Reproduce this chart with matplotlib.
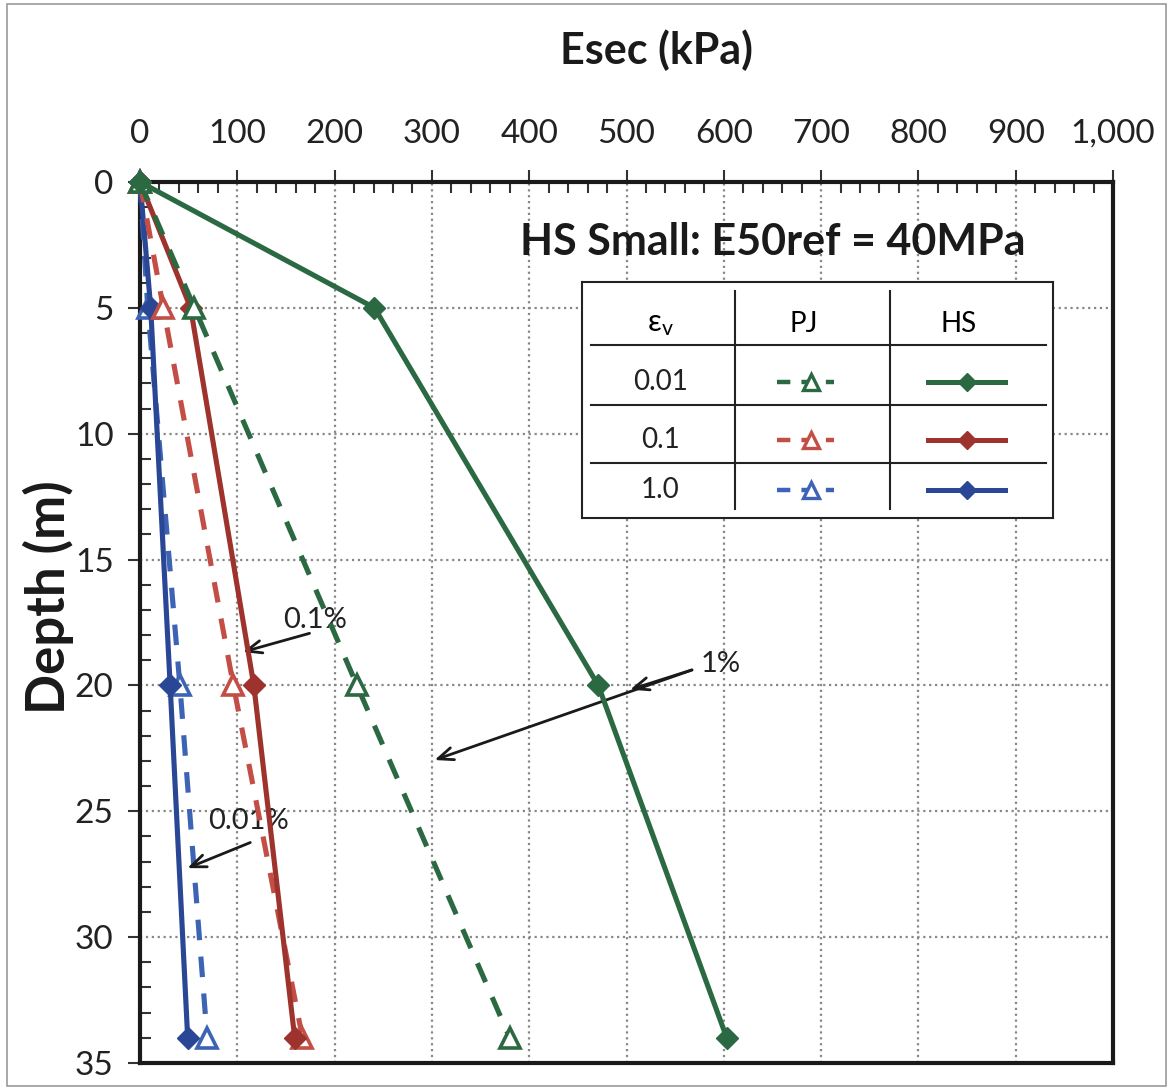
import matplotlib
matplotlib.use('Agg')
import matplotlib.pyplot as plt
from matplotlib.lines import Line2D
from matplotlib.patches import Rectangle

plt.rcParams['font.family'] = ['Lato', 'DejaVu Sans']

# depths (m) and secant moduli (kPa)
depth = [0, 5, 20, 34]
pj_001 = [0, 56, 223, 380]
pj_01 = [0, 24, 96, 167]
pj_1 = [0, 8, 41, 69]
hs_001 = [0, 241, 471, 603]
hs_01 = [0, 52, 117, 159]
hs_1 = [0, 11, 31, 49]

green = '#2b6942'
red_d = '#c24e46'
red_s = '#9e332d'
blue_d = '#3d63b4'
blue_s = '#2a4796'

fig = plt.figure(figsize=(11.71, 10.89), dpi=100)
ax = fig.add_axes([140/1171, 1-1063/1089, 973/1171, 881/1089])

pj_kw = dict(ls=(0, (4, 3.2)), lw=3.7, marker='^', ms=15, mfc='white', mew=2.6, clip_on=False)
hs_kw = dict(ls='-', lw=3.7, marker='D', ms=11, clip_on=False)

ax.plot(pj_1, depth, color=blue_d, zorder=3, **pj_kw)
ax.plot(hs_1, depth, color=blue_s, zorder=4, **hs_kw)
ax.plot(pj_01, depth, color=red_d, zorder=5, **pj_kw)
ax.plot(hs_01, depth, color=red_s, zorder=6, **hs_kw)
ax.plot(pj_001, depth, color=green, zorder=7, **pj_kw)
ax.plot(hs_001, depth, color=green, zorder=8, **hs_kw)

ax.set_xlim(0, 1000)
ax.set_ylim(35, 0)
ax.xaxis.tick_top()
ax.set_xticks(range(0, 1001, 100))
ax.set_xticklabels(['0', '100', '200', '300', '400', '500', '600', '700', '800', '900', '1,000'])
ax.set_xticks(range(0, 1001, 20), minor=True)
ax.set_yticks(range(0, 36, 5))
ax.set_yticks(range(0, 36, 1), minor=True)
ax.tick_params(which='major', direction='out', length=9, width=1.5, colors='#333333',
               labelsize=24, labelcolor='#222222')
ax.tick_params(axis='x', which='major', pad=15)
ax.tick_params(axis='y', which='major', pad=10)
ax.tick_params(which='minor', direction='in', length=8, width=1.5, colors='#333333')
ax.tick_params(axis='x', which='both', top=True, bottom=False)
for s in ax.spines.values():
    s.set_linewidth(3)
    s.set_color('#1a1a1a')
ax.grid(True, which='major', ls=':', lw=1.6, color='#888888', zorder=0)
ax.set_axisbelow(True)

fig.text(657/1171, 1-50/1089, 'Esec (kPa)', fontsize=31, fontweight='bold',
         ha='center', va='center', color='#1a1a1a')
fig.text(48/1171, 1-597/1089, 'Depth (m)', fontsize=38, fontweight='bold', rotation=90,
         ha='center', va='center', color='#1a1a1a')

ax.text(650, 2.4, 'HS Small: E50ref = 40MPa', fontsize=31, fontweight='bold',
        ha='center', va='center', color='#1a1a1a')

arrow_kw = dict(arrowstyle='->,head_length=1.1,head_width=0.45', lw=2, color='#1a1a1a')
ax.text(180, 17.4, '0.1%', fontsize=21, ha='center', va='center', color='#222222')
ax.annotate('', xy=(103, 18.7), xytext=(177, 17.9), arrowprops=arrow_kw)
ax.text(111, 25.4, '0.01%', fontsize=21, ha='center', va='center', color='#222222')
ax.annotate('', xy=(46, 27.3), xytext=(116, 26.2), arrowprops=arrow_kw)
ax.text(597, 19.15, '1%', fontsize=21, ha='center', va='center', color='#222222')
ax.annotate('', xy=(501, 20.2), xytext=(570, 19.35), arrowprops=arrow_kw)
ax.annotate('', xy=(300, 23.0), xytext=(570, 19.35), arrowprops=arrow_kw)

# legend drawn as a table
lg = fig.add_axes([582/1171, 1-518/1089, 471/1171, 236/1089])
lg.set_xlim(0, 1)
lg.set_ylim(0, 1)
lg.set_xticks([])
lg.set_yticks([])
for s in lg.spines.values():
    s.set_linewidth(1.5)
    s.set_color('#222222')
for yy in [0.733, 0.479, 0.233]:
    lg.add_line(Line2D([0.02, 0.985], [yy, yy], color='#222222', lw=1.5))
for xx in [0.325, 0.654]:
    lg.add_line(Line2D([xx, xx], [0.04, 0.96], color='#222222', lw=1.5))
tfs = 20
lg.text(0.166, 0.82, r'$\mathregular{\varepsilon_v}$', fontsize=tfs + 2, ha='center', va='center')
lg.text(0.47, 0.82, 'PJ', fontsize=tfs, ha='center', va='center')
lg.text(0.80, 0.82, 'HS', fontsize=tfs, ha='center', va='center')
rows = [('0.01', green, green, 0.576), ('0.1', red_d, red_s, 0.33), ('1.0', blue_d, blue_s, 0.12)]
for lab, cd, cs, yy in rows:
    lg.text(0.166, yy, lab, fontsize=tfs, ha='center', va='center', color='#222222')
    lg.add_line(Line2D([0.413, 0.536], [yy, yy], color=cd, lw=3.2, ls=(0, (3, 2.5))))
    lg.add_line(Line2D([0.486], [yy], color=cd, marker='^', ms=11, mfc='white', mew=2.4))
    lg.add_line(Line2D([0.735, 0.898], [yy, yy], color=cs, lw=3.6))
    lg.add_line(Line2D([0.817], [yy], color=cs, marker='D', ms=9))

# outer frame of the picture
fig.patches.append(Rectangle((7/1171, 1-1086/1089), 1159/1171, 1082/1089, transform=fig.transFigure,
                             fill=False, ec='#999999', lw=1.2))

fig.savefig('out.png', dpi=100)
